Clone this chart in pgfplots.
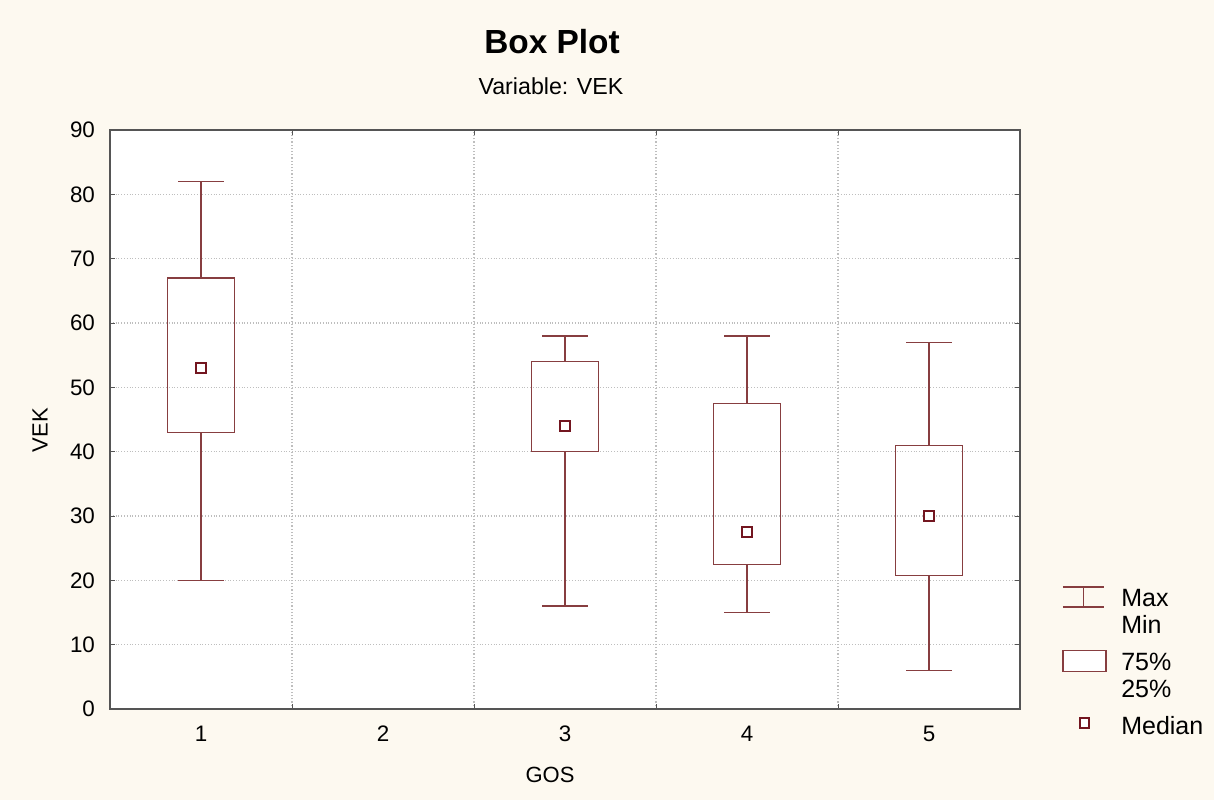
\documentclass[border=0pt]{standalone}
\usepackage{fontspec}
\setmainfont{Liberation Sans}
\usepackage{pgfplots}
\pgfplotsset{compat=1.18}

\definecolor{bgcream}{RGB}{253,249,240}
\definecolor{boxred}{RGB}{135,62,64}
\definecolor{medred}{RGB}{115,22,32}
\definecolor{gridgray}{RGB}{190,190,190}
\definecolor{framegray}{RGB}{85,85,85}

\begin{document}
\begin{tikzpicture}[x=1pt,y=1pt]
% page background
\fill[bgcream] (0,0) rectangle (607,400);

\begin{axis}[
  at={(55pt,45.5pt)}, anchor=south west,
  scale only axis, width=455pt, height=289.5pt,
  xmin=0.5, xmax=5.5, ymin=0, ymax=90,
  xtick={1,2,3,4,5},
  major x tick style={draw=none},
  minor xtick={1.5,2.5,3.5,4.5},
  xminorgrids, ymajorgrids,
  ytick={0,10,...,90},
  grid style={gridgray, densely dotted, line width=0.6pt},
  minor grid style={gridgray, densely dotted, line width=0.6pt},
  tick align=inside, tick pos=both,
  major tick length=2.5pt, minor tick length=2.5pt,
  axis line style={framegray, line width=0.75pt},
  tick style={framegray, line width=0.5pt},
  xticklabel style={yshift=-5pt},
  yticklabel style={xshift=-4pt},
  tick label style={font=\fontsize{11.2}{13}\selectfont},
  /pgf/number format/assume math mode=true,
  axis background/.style={fill=white},
  unbounded coords=jump,
  legend style={draw=none, fill=none, inner sep=0pt,
    at={(axis description cs:1.046,0.214)}, anchor=north west,
    font=\fontsize{12.5}{13.5}\selectfont,
    nodes={align=left}, row sep=4pt},
  legend cell align=left,
]

% whiskers with end caps (min / max), one group per GOS value
\addplot[forget plot, boxred, line width=0.65pt] coordinates {
  (1,20) (1,43) (1,nan) (0.875,20) (1.125,20) (1,nan)
  (1,67) (1,82) (1,nan) (0.875,82) (1.125,82) (1,nan)
  (3,16) (3,40) (3,nan) (2.875,16) (3.125,16) (3,nan)
  (3,54) (3,58) (3,nan) (2.875,58) (3.125,58) (3,nan)
  (4,15) (4,22.5) (4,nan) (3.875,15) (4.125,15) (4,nan)
  (4,47.5) (4,58) (4,nan) (3.875,58) (4.125,58) (4,nan)
  (5,6) (5,20.7) (5,nan) (4.875,6) (5.125,6) (5,nan)
  (5,41) (5,57) (5,nan) (4.875,57) (5.125,57)
};

% boxes: 25% to 75%
\addplot[forget plot, boxred, line width=0.6pt] coordinates {
  (0.815,43) (1.185,43) (1.185,67) (0.815,67) (0.815,43) (1,nan)
  (2.815,40) (3.185,40) (3.185,54) (2.815,54) (2.815,40) (3,nan)
  (3.815,22.5) (4.185,22.5) (4.185,47.5) (3.815,47.5) (3.815,22.5) (4,nan)
  (4.815,20.7) (5.185,20.7) (5.185,41) (4.815,41) (4.815,20.7)
};

% medians
\addplot[forget plot, only marks, mark=square*, mark size=2.4pt,
  draw=medred, fill=white, line width=0.95pt]
  coordinates {(1,53) (3,44) (4,27.5) (5,30)};

% legend
\addlegendimage{legend image code/.code={
  \draw[boxred,line width=0.65pt] (0pt,3pt) -- (20.5pt,3pt)
    (0pt,13pt) -- (20.5pt,13pt) (10.25pt,3pt) -- (10.25pt,13pt);
  \path (27pt,0pt);}}
\addlegendentry{Max\\Min}
\addlegendimage{legend image code/.code={
  \draw[boxred,line width=0.6pt,fill=white] (0pt,2.25pt) rectangle (21.5pt,12.75pt);
  \path (27pt,0pt);}}
\addlegendentry{75\%\\25\%}
\addlegendimage{legend image code/.code={
  \draw[medred,line width=0.95pt,fill=white] (8.35pt,-0.5pt) rectangle (13.15pt,4.3pt);
  \path (27pt,0pt);}}
\addlegendentry{Median}
\end{axis}

% titles and axis labels
\node[anchor=base, font=\bfseries\fontsize{16.7}{19}\selectfont] at (276,373) {Box Plot};
\node[anchor=base, font=\fontsize{11.6}{13}\selectfont] at (275.5,352.5) {Variable: VEK};
\node[rotate=90, font=\fontsize{11}{13}\selectfont] at (20,185) {VEK};
\node[font=\fontsize{11}{13}\selectfont] at (275,12.5) {GOS};
\end{tikzpicture}
\end{document}
